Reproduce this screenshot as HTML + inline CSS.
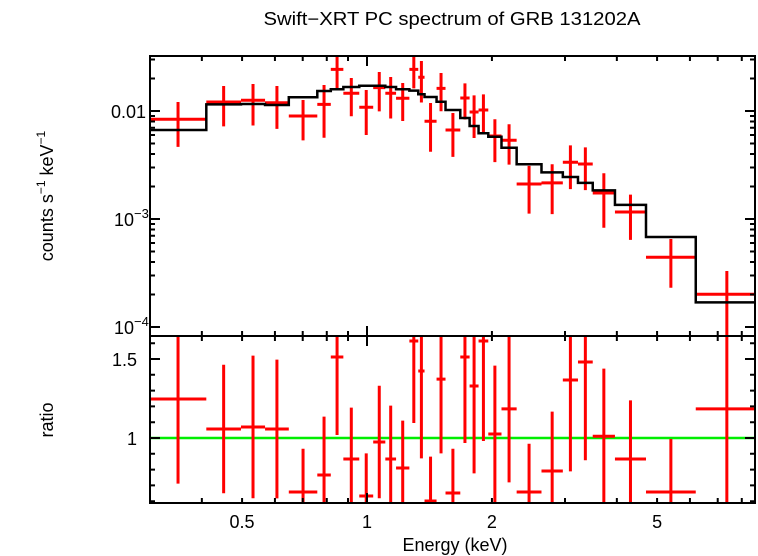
<!DOCTYPE html>
<html><head><meta charset="utf-8"><style>
html,body{margin:0;padding:0;background:#fff;}
svg{display:block;font-family:"Liberation Sans",sans-serif;}
</style></head><body>
<svg id="chart" width="758" height="556" viewBox="0 0 758 556" xmlns="http://www.w3.org/2000/svg">
<text x="452" y="25" font-size="18" text-anchor="middle" textLength="377" lengthAdjust="spacingAndGlyphs">Swift−XRT PC spectrum of GRB 131202A</text>
<text transform="translate(53,196) rotate(-90)" font-size="18" text-anchor="middle">counts s<tspan font-size="12" dy="-8">−1</tspan><tspan dy="8"> keV</tspan><tspan font-size="12" dy="-8">−1</tspan></text>
<text transform="translate(53,420) rotate(-90)" font-size="18" text-anchor="middle">ratio</text>
<text x="455" y="551" font-size="18" text-anchor="middle">Energy (keV)</text>
<g id="plot"></g>
</svg>
<script>
const edges=[0.2996,0.410,0.497,0.568,0.648,0.759,0.818,0.877,0.958,1.035,1.107,1.175,1.265,1.329,1.376,1.471,1.546,1.678,1.767,1.857,1.960,2.109,2.294,2.633,2.964,3.224,3.499,3.958,4.702,6.197,8.75];
const counts=[8.38e-3,0.01211,0.01256,0.01193,8.99e-3,0.01153,0.02432,0.01459,0.01082,0.01644,0.01459,0.01312,0.02432,0.02051,8.03e-3,0.01622,6.67e-3,0.01319,9.79e-3,0.01021,5.87e-3,5.36e-3,2.11e-3,2.16e-3,3.35e-3,3.23e-3,1.74e-3,1.16e-3,4.42e-4,2.01e-4];
const countErr=[0.00373,0.00491,0.00522,0.00509,0.00365,0.00588,0.0080,0.00564,0.00482,0.00653,0.00606,0.00503,0.0081,0.00853,0.00383,0.00627,0.00291,0.00485,0.00417,0.00405,0.00251,0.00217,0.00099,0.00105,0.00146,0.00138,0.00091,0.00052,2.11e-4,1.29e-4];
const model=[6.67e-3,0.01153,0.01161,0.01137,0.01340,0.01531,0.01589,0.01668,0.01714,0.01714,0.01668,0.01589,0.01542,0.01428,0.01348,0.01219,0.01021,8.61e-3,7.26e-3,6.22e-3,5.78e-3,4.57e-3,3.21e-3,2.70e-3,2.45e-3,2.16e-3,1.84e-3,1.35e-3,6.81e-4,1.69e-4];
const ratio=[1.247,1.057,1.070,1.057,0.658,0.766,1.513,0.867,0.633,0.975,0.867,0.810,1.614,1.424,0.601,1.373,0.652,1.513,1.329,1.614,1.025,1.184,0.658,0.791,1.367,1.481,1.011,0.867,0.658,1.184];
const ratioErr=[0.536,0.407,0.451,0.439,0.274,0.369,0.494,0.325,0.270,0.356,0.338,0.300,0.519,0.553,0.281,0.470,0.280,0.545,0.553,0.633,0.433,0.465,0.306,0.376,0.578,0.622,0.428,0.371,0.336,0.7];
const xMajor=[1];
const xMinor=[0.3,0.4,0.5,0.6,0.7,0.8,0.9,2,3,4,5,6,7,8];
const xLabels=[0.5,1,2,5];
const yTopLabels=[{v:0.01,t:"0.01"},{v:1e-3,t:"10",e:"−3"},{v:1e-4,t:"10",e:"−4"}];
const ratioMajor=[1,1.5];
const ratioLabels=[{v:1,t:"1"},{v:1.5,t:"1.5"}];

const L=150,R=755,T=56,M=336,B=503;
const X=e=>367+415*Math.log10(e);
const YT=v=>111-108*(Math.log10(v)+2);
const YB=r=>438-158*(r-1);
const NS="http://www.w3.org/2000/svg";
const g=document.getElementById('plot');
function mk(tag,attrs,parent){const el=document.createElementNS(NS,tag);for(const k in attrs)el.setAttribute(k,attrs[k]);(parent||g).appendChild(el);return el;}

const defs=mk('defs',{});
const c1=mk('clipPath',{id:'ct'},defs);mk('rect',{x:L,y:T,width:R-L,height:M-T},c1);
const c2=mk('clipPath',{id:'cb'},defs);mk('rect',{x:L,y:M,width:R-L,height:B-M},c2);

const gt=mk('g',{'clip-path':'url(#ct)'});


for(let i=0;i<counts.length;i++){
  const x0=X(edges[i]),x1=X(edges[i+1]),xc=X(Math.sqrt(edges[i]*edges[i+1]));
  const y=YT(counts[i]);
  const lo=counts[i]-countErr[i];
  const yl=lo>0?YT(lo):M+10, yh=YT(counts[i]+countErr[i]);
  const p=mk('path',{d:`M${x0} ${y}H${x1}M${xc} ${yh}V${yl}`,stroke:'#f00','stroke-width':3,fill:'none'},gt);
  
  
}
let d='';
for(let i=0;i<model.length;i++){const y=YT(model[i]);d+=(i?'L':'M')+X(edges[i])+' '+y+'H'+X(edges[i+1]);}
const mp=mk('path',{d:d,stroke:'#000','stroke-width':2.5,fill:'none'},gt);



const gb=mk('g',{'clip-path':'url(#cb)'});


const gl=mk('line',{x1:L,x2:R,y1:YB(1),y2:YB(1),stroke:'#0e0','stroke-width':2.5},gb);


for(let i=0;i<ratio.length;i++){
  const x0=X(edges[i]),x1=X(edges[i+1]),xc=X(Math.sqrt(edges[i]*edges[i+1]));
  const y=YB(ratio[i]);
  const p=mk('path',{d:`M${x0} ${y}H${x1}M${xc} ${YB(ratio[i]+ratioErr[i])}V${YB(ratio[i]-ratioErr[i])}`,stroke:'#f00','stroke-width':3,fill:'none'},gb);
  
  
}

const ax=mk('g',{stroke:'#000','stroke-width':2,fill:'none'});


mk('rect',{x:L,y:T,width:R-L,height:B-T},ax);
mk('line',{x1:L,x2:R,y1:M,y2:M},ax);
let td='';
[[T,1],[M,-1],[M,1],[B,-1]].forEach(([y0,dir])=>{
  xMajor.forEach(e=>{td+=`M${X(e)} ${y0}v${dir*10}`;});
  xMinor.forEach(e=>{td+=`M${X(e)} ${y0}v${dir*5}`;});
});
for(let dec=-4;dec<=-2;dec++){
  for(let k=1;k<=9;k++){
    const v=k*Math.pow(10,dec);const y=YT(v);
    if(y<T||y>M)continue;
    const len=k==1?10:5;
    td+=`M${L} ${y}h${len}M${R} ${y}h${-len}`;
  }
}
for(let r=0.6;r<=1.65;r+=0.1){
  const rr=Math.round(r*10)/10;const y=YB(rr);
  const len=ratioMajor.includes(rr)?10:5;
  td+=`M${L} ${y}h${len}M${R} ${y}h${-len}`;
}
mk('path',{d:td},ax);

const tl=mk('g',{'font-size':18,fill:'#000'});


xLabels.forEach(e=>{const t=mk('text',{x:X(e),y:528,'text-anchor':'middle'},tl);t.textContent=String(e);
  });
yTopLabels.forEach(o=>{
  const t=mk('text',{x:o.e?134:146,y:YT(o.v)+7,'text-anchor':'end'},tl);t.textContent=o.t;
  
  if(o.e){const s=mk('text',{x:134,y:YT(o.v)-1,'font-size':13},tl);s.textContent=o.e;
    }
});
ratioLabels.forEach(o=>{const t=mk('text',{x:137,y:YB(o.v)+7,'text-anchor':'end'},tl);t.textContent=o.t;
  });
</script>
</body></html>
